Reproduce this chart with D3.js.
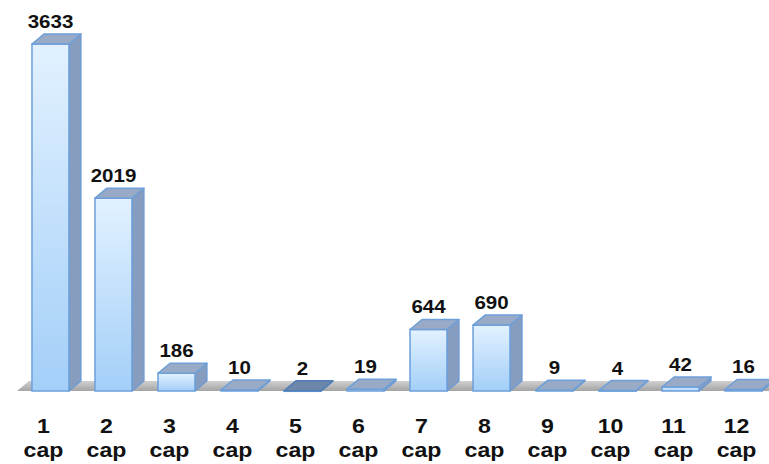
<!DOCTYPE html>
<html>
<head>
<meta charset="utf-8">
<script src="https://cdn.jsdelivr.net/npm/d3@7"></script>
<style>
  html, body { margin: 0; padding: 0; background: #ffffff; }
  svg { display: block; }
  text { font-family: "Liberation Sans", Arial, sans-serif; font-weight: bold; fill: #111; }
</style>
</head>
<body>
<svg id="chart" width="769" height="464"></svg>
<script>
const categories = ["1 cap","2 cap","3 cap","4 cap","5 cap","6 cap","7 cap","8 cap","9 cap","10 cap","11 cap","12 cap"];
const values = [3633, 2019, 186, 10, 2, 19, 644, 690, 9, 4, 42, 16];

const W = 769, H = 464;
const baseY = 391, topY = 44;
const DX = 12, DY = 10;

const svg = d3.select("#chart");
const defs = svg.append("defs");

const gFront = defs.append("linearGradient").attr("id","front").attr("x1",0).attr("y1",0).attr("x2",0).attr("y2",1);
gFront.append("stop").attr("offset","0%").attr("stop-color","#e2f1ff");
gFront.append("stop").attr("offset","100%").attr("stop-color","#a3cff8");

const gFloor = defs.append("linearGradient").attr("id","floor").attr("x1",0).attr("y1",0).attr("x2",0).attr("y2",1);
gFloor.append("stop").attr("offset","0%").attr("stop-color","#d0d0d0");
gFloor.append("stop").attr("offset","100%").attr("stop-color","#a4a4a4");

const x = d3.scaleBand().domain(categories).range([19, 775]).paddingInner(0.413).paddingOuter(0.206);
const y = d3.scaleLinear().domain([0, d3.max(values)]).range([baseY, topY]);

// floor
svg.append("polygon")
  .attr("points", [[17, baseY], [17 + DX, baseY - DY], [W + 20, baseY - DY], [W + 20, baseY]].map(p => p.join(",")).join(" "))
  .attr("fill", "url(#floor)");

const data = categories.map((c, i) => ({ c, v: values[i] }));
const bw = x.bandwidth();

const bars = svg.append("g").selectAll("g").data(data).join("g");

// side face
bars.append("polygon")
  .attr("points", d => {
    const x0 = x(d.c) + bw, yt = y(d.v);
    return [[x0, yt], [x0 + DX, yt - DY], [x0 + DX, baseY - DY], [x0, baseY]].map(p => p.join(",")).join(" ");
  })
  .attr("fill", "#869dc0")
  .attr("stroke", "#6d9bd3")
  .attr("stroke-width", 1.3)
  .attr("stroke-linejoin", "round");

// front face
bars.append("rect")
  .attr("x", d => x(d.c))
  .attr("y", d => y(d.v))
  .attr("width", bw)
  .attr("height", d => Math.max(0.5, baseY - y(d.v)))
  .attr("fill", "url(#front)")
  .attr("stroke", "#6d9fda")
  .attr("stroke-width", 1.5);

// top face
bars.append("polygon")
  .attr("points", d => {
    const x0 = x(d.c), yt = y(d.v);
    return [[x0, yt], [x0 + DX, yt - DY], [x0 + bw + DX, yt - DY], [x0 + bw, yt]].map(p => p.join(",")).join(" ");
  })
  .attr("fill", d => d.v < 3 ? "#6d87ab" : "#98aac6")
  .attr("stroke", d => d.v < 3 ? "#4f7db8" : "#6d9fda")
  .attr("stroke-width", 1.5)
  .attr("stroke-linejoin", "round");

// value labels
bars.append("text")
  .attr("transform", d => `translate(${x(d.c) + bw / 2},${y(d.v) - DY - 6}) scale(1.08,1)`)
  .attr("text-anchor", "middle")
  .attr("font-size", 19)
  .text(d => d.v);

// category labels
const labels = svg.append("g").selectAll("g").data(data).join("g")
  .attr("transform", d => `translate(${x(d.c) + bw / 2 - 7},0)`);
labels.each(function(d) {
  const parts = d.c.split(" ");
  const g = d3.select(this);
  g.append("text").attr("transform", "translate(0,433) scale(1.1,1)")
    .attr("text-anchor", "middle").attr("font-size", 21).text(parts[0]);
  g.append("text").attr("transform", "translate(0,457) scale(1.1,1)")
    .attr("text-anchor", "middle").attr("font-size", 21).text(parts[1]);
});
</script>
</body>
</html>
